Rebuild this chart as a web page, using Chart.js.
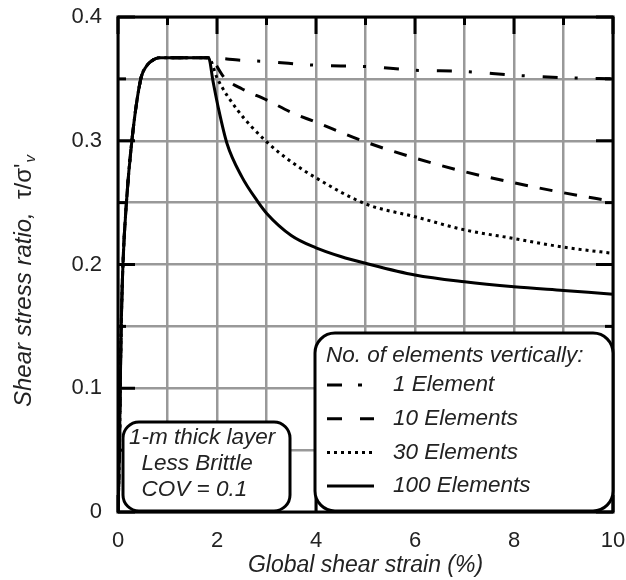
<!DOCTYPE html>
<html>
<head>
<meta charset="utf-8">
<script src="https://cdn.jsdelivr.net/npm/chart.js@4.4.1/dist/chart.umd.min.js"></script>
<style>
  html, body { margin: 0; padding: 0; background: #fff; }
</style>
</head>
<body>
<canvas id="myChart" width="626" height="580"></canvas>
<script>
'use strict';
const FONT = "'Liberation Sans', Arial, sans-serif";

// loading branch, shared by every run up to the peak
let riseStrain = [0, 0.03, 0.045, 0.065, 0.1, 0.17, 0.28, 0.46, 0.57, 0.7, 0.83, 1.2, 1.5, 1.83];
let riseRatio = [0, 0.05, 0.1, 0.15, 0.2, 0.25, 0.3, 0.35, 0.36, 0.365, 0.367, 0.367, 0.367, 0.367];

// softening branches
let oneStrain = [2.5, 3, 4, 5, 6, 7, 8, 9, 10];
let oneRatio = [0.365, 0.364, 0.361, 0.36, 0.357, 0.356, 0.353, 0.351, 0.35];
let tenStrain = [2.17, 2.5, 3, 3.5, 4, 5, 6, 7, 8, 9, 10];
let tenRatio = [0.35, 0.342, 0.333, 0.323, 0.315, 0.299, 0.286, 0.275, 0.266, 0.258, 0.251];
let thirtyStrain = [2.01, 2.41, 2.98, 3.5, 4, 5, 6, 7, 8, 9, 10];
let thirtyRatio = [0.35, 0.325, 0.3, 0.283, 0.27, 0.249, 0.2386, 0.228, 0.221, 0.214, 0.209];
let hundredStrain = [1.92, 2.03, 2.2, 2.5, 2.82, 3, 3.5, 4, 4.5, 5, 6, 7, 8, 9, 10];
let hundredRatio = [0.348, 0.326, 0.298, 0.271, 0.251, 0.2415, 0.2235, 0.2135, 0.2065, 0.201, 0.1915, 0.186, 0.182, 0.179, 0.176];

let seriesNames = ['1 Element', '10 Elements', '30 Elements', '100 Elements'];
let legendTitle = 'No. of elements vertically:';
let noteLines = ['1-m thick layer', '  Less Brittle', '  COV = 0.1'];

function toPoints(xs, ys) {
    let pts = [];
    for (let i = 0; i < riseStrain.length; i++) {
        pts.push({ x: riseStrain[i], y: riseRatio[i] });
    }
    for (let i = 0; i < xs.length; i++) {
        pts.push({ x: xs[i], y: ys[i] });
    }
    return pts;
}

function line(ctx, x1, y1, x2, y2) {
    ctx.beginPath();
    ctx.moveTo(x1, y1);
    ctx.lineTo(x2, y2);
    ctx.stroke();
}

function roundBox(ctx, x, y, w, h, r) {
    ctx.beginPath();
    ctx.roundRect(x, y, w, h, r);
    ctx.fillStyle = '#fff';
    ctx.fill();
    ctx.lineWidth = 3;
    ctx.strokeStyle = '#000';
    ctx.stroke();
}

// frame and inward tick marks
const framePlugin = {
    id: 'frame',
    afterDatasetsDraw(chart) {
        let ctx = chart.ctx;
        let a = chart.chartArea;
        let sx = chart.scales.x;
        let sy = chart.scales.y;
        ctx.save();
        ctx.strokeStyle = '#000';
        ctx.lineWidth = 3;
        sx.ticks.forEach(t => {
            let px = sx.getPixelForValue(t.value);
            let len = t.value % 2 === 0 ? 17 : 8;
            line(ctx, px, a.bottom, px, a.bottom - len);
            line(ctx, px, a.top, px, a.top + len);
        });
        sy.ticks.forEach(t => {
            let py = sy.getPixelForValue(t.value);
            let len = Math.round(t.value * 100) % 10 === 0 ? 17 : 8;
            line(ctx, a.left, py, a.left + len, py);
            line(ctx, a.right, py, a.right - len, py);
        });
        ctx.strokeRect(a.left, a.top, a.right - a.left, a.bottom - a.top);
        ctx.restore();
    }
};

// y title, legend box and note box
const boxesPlugin = {
    id: 'boxes',
    afterDraw(chart) {
        let ctx = chart.ctx;
        ctx.save();

        // y axis title with subscript
        ctx.translate(31, 407);
        ctx.rotate(-Math.PI / 2);
        ctx.fillStyle = '#222';
        ctx.textBaseline = 'alphabetic';
        let part1 = 'Shear stress ratio,  ';
        let part2 = "\u03c4/\u03c3'";
        ctx.font = 'italic 24px ' + FONT;
        let w1 = ctx.measureText(part1).width;
        ctx.fillText(part1, 0, 0);
        ctx.font = '24px ' + FONT;
        let w2 = ctx.measureText(part2).width;
        ctx.fillText(part2, w1, 0);
        ctx.font = 'italic 15px ' + FONT;
        ctx.fillText('v', w1 + w2 + 1, 4);
        ctx.setTransform(1, 0, 0, 1, 0, 0);

        // legend
        roundBox(ctx, 315, 333, 298, 178, 20);
        ctx.fillStyle = '#222';
        ctx.textBaseline = 'middle';
        ctx.font = 'italic 22.5px ' + FONT;
        ctx.fillText(legendTitle, 326, 356);
        chart.data.datasets.forEach((ds, i) => {
            let yy = 385 + i * 33.7;
            ctx.strokeStyle = '#000';
            ctx.lineWidth = ds.borderWidth;
            ctx.setLineDash(ds.legendDash || ds.borderDash || []);
            line(ctx, 327, yy, 374, yy);
            ctx.setLineDash([]);
            ctx.fillText(ds.label, 393, yy);
        });

        // note box
        roundBox(ctx, 123, 422, 167, 89, 16);
        ctx.fillStyle = '#222';
        ctx.font = 'italic 22.5px ' + FONT;
        noteLines.forEach((s, i) => {
            ctx.fillText(s, 129, 438 + i * 26);
        });
        ctx.restore();
    }
};

let ctx = document.getElementById('myChart').getContext('2d');
let chart = new Chart(ctx, {
    type: 'scatter',
    data: {
        datasets: [
            {
                label: seriesNames[0],
                data: toPoints(oneStrain, oneRatio),
                borderDash: [15, 17, 3, 18],
                legendDash: [15, 16, 4, 30],
                borderWidth: 3,
                order: 3
            },
            {
                label: seriesNames[1],
                data: toPoints(tenStrain, tenRatio),
                borderDash: [13, 12],
                legendDash: [15, 18],
                borderWidth: 3,
                order: 2
            },
            {
                label: seriesNames[2],
                data: toPoints(thirtyStrain, thirtyRatio),
                borderDash: [3, 4],
                borderWidth: 3,
                order: 1
            },
            {
                label: seriesNames[3],
                data: toPoints(hundredStrain, hundredRatio),
                borderWidth: 3,
                order: 0
            }
        ]
    },
    options: {
        responsive: false,
        animation: false,
        devicePixelRatio: 1,
        showLine: true,
        layout: { padding: { top: 17, right: 13, left: 0, bottom: 0 } },
        elements: {
            point: { radius: 0 },
            line: { borderColor: '#000', cubicInterpolationMode: 'monotone', fill: false }
        },
        plugins: { legend: { display: false }, tooltip: { enabled: false } },
        scales: {
            x: {
                type: 'linear',
                min: 0,
                max: 10,
                afterFit: s => {
                    s.height = 68;
                    s.paddingLeft = 0;
                    s.paddingRight = 0;
                },
                grid: { color: '#999', lineWidth: 2.5, drawTicks: false },
                border: { display: false },
                ticks: {
                    stepSize: 1,
                    autoSkip: false,
                    maxRotation: 0,
                    padding: 16,
                    color: '#222',
                    font: { family: FONT, size: 22 },
                    callback: v => (v % 2 === 0 ? String(v) : '')
                },
                title: {
                    display: true,
                    text: 'Global shear strain (%)',
                    color: '#222',
                    font: { family: FONT, size: 23, style: 'italic' },
                    padding: { top: 0, bottom: 1 }
                }
            },
            y: {
                min: 0,
                max: 0.4,
                afterFit: s => {
                    s.width = 118;
                    s.paddingTop = 0;
                    s.paddingBottom = 0;
                },
                grid: { color: '#999', lineWidth: 2.5, drawTicks: false },
                border: { display: false },
                ticks: {
                    stepSize: 0.05,
                    autoSkip: false,
                    padding: 16,
                    color: '#222',
                    font: { family: FONT, size: 22 },
                    callback: v => {
                        let r = Math.round(v * 100);
                        return r % 10 === 0 ? String(r / 100) : '';
                    }
                }
            }
        }
    },
    plugins: [framePlugin, boxesPlugin]
});
</script>
</body>
</html>
